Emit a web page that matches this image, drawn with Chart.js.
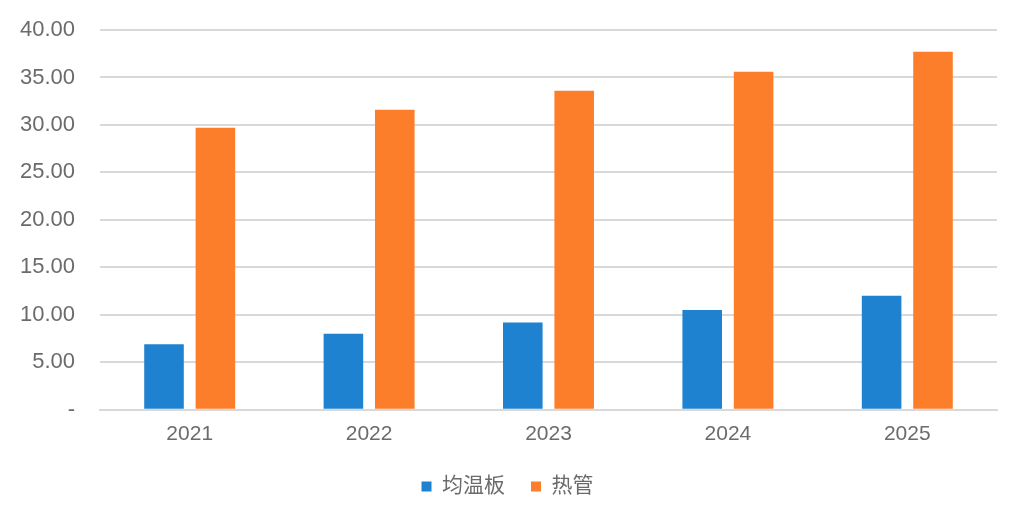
<!DOCTYPE html>
<html>
<head>
<meta charset="utf-8">
<script src="https://cdn.jsdelivr.net/npm/chart.js@4"></script>
<style>
html,body{margin:0;padding:0;background:#fff;}
#wrap{width:1024px;height:512px;}
</style>
</head>
<body>
<div id="wrap"><canvas id="c" width="1024" height="512"></canvas></div>
<script>
const categories = ['2021', '2022', '2023', '2024', '2025'];
const vcValues = [6.9, 8.0, 9.2, 10.5, 12.0];
const heatPipeValues = [29.7, 31.6, 33.6, 35.6, 37.7];
const seriesNames = ['均温板', '热管'];
const yTickLabels = ['-', '5.00', '10.00', '15.00', '20.00', '25.00', '30.00', '35.00', '40.00'];

const fontFamily = '"Liberation Sans", Arial, "Noto Sans CJK SC", sans-serif';

new Chart(document.getElementById('c'), {
  type: 'bar',
  data: {
    labels: categories,
    datasets: [
      { label: seriesNames[0], data: vcValues, backgroundColor: '#1f82d0', borderWidth: 0 },
      { label: seriesNames[1], data: heatPipeValues, backgroundColor: '#fd7e2a', borderWidth: 0 }
    ]
  },
  options: {
    responsive: false,
    animation: false,
    devicePixelRatio: 1,
    categoryPercentage: 0.573,
    barPercentage: 0.77,
    layout: { padding: { left: 18, right: 27, top: 30, bottom: 5 } },
    plugins: {
      tooltip: { enabled: false },
      legend: {
        position: 'bottom',
        labels: {
          boxWidth: 10,
          boxHeight: 10,
          padding: 26,
          color: '#6b6b6b',
          font: { family: fontFamily, size: 21 }
        }
      }
    },
    scales: {
      x: {
        grid: { display: false, drawTicks: false },
        border: { display: true, color: '#d9d9d9', width: 2 },
        ticks: { color: '#6b6b6b', padding: 12, font: { family: fontFamily, size: 21 } },
        afterFit: s => { s.height = s.height - 9; }
      },
      y: {
        min: 0,
        max: 40,
        ticks: {
          stepSize: 5,
          padding: 25,
          color: '#6b6b6b',
          font: { family: fontFamily, size: 22 },
          callback: (v, i) => yTickLabels[i]
        },
        grid: { color: '#d9d9d9', lineWidth: 2, drawTicks: false },
        border: { display: false },
        afterFit: s => { s.width = 82; s.paddingTop = 0; s.paddingBottom = 0; }
      }
    }
  }
});
</script>
</body>
</html>
